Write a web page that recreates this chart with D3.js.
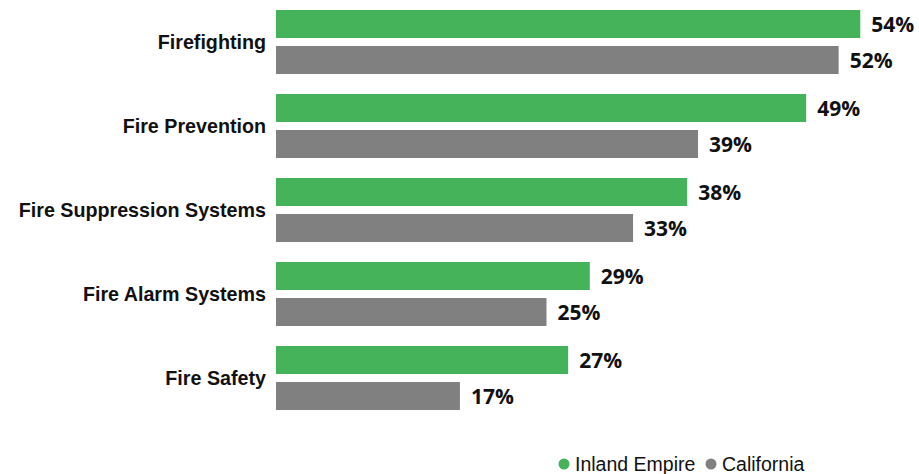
<!DOCTYPE html>
<html>
<head>
<meta charset="utf-8">
<script src="https://cdn.jsdelivr.net/npm/d3@7"></script>
<style>
  html, body { margin: 0; padding: 0; background: #fff; }
  svg { display: block; }
</style>
</head>
<body>
<svg id="chart" width="919" height="474"></svg>
<script>
// categories, top to bottom
const categories = ["Firefighting", "Fire Prevention", "Fire Suppression Systems", "Fire Alarm Systems", "Fire Safety"];
const seriesNames = ["Inland Empire", "California"];
const inlandEmpire = [54, 49, 38, 29, 27];
const california = [52, 39, 33, 25, 17];

const GREEN = "#44b35a";
const GRAY = "#808080";

const svg = d3.select("#chart");

// bar area
const x = d3.scaleLinear().domain([0, 54]).range([276, 276 + 54 * 10.82]);
const y = d3.scaleBand().domain(categories).range([1, 421]).paddingInner(0).paddingOuter(0);

const series = [
  { name: seriesNames[0], values: inlandEmpire, color: GREEN, offset: 9 },
  { name: seriesNames[1], values: california, color: GRAY, offset: 45 }
];
const BAR_H = 28;

series.forEach(s => {
  const g = svg.append("g");
  g.selectAll("rect")
    .data(categories)
    .enter().append("rect")
    .attr("x", x(0))
    .attr("y", d => y(d) + s.offset)
    .attr("width", (d, i) => x(s.values[i]) - x(0))
    .attr("height", BAR_H)
    .attr("fill", s.color);

  g.selectAll("text")
    .data(categories)
    .enter().append("text")
    .attr("x", (d, i) => x(s.values[i]) + 11)
    .attr("y", d => y(d) + s.offset + BAR_H / 2)
    .attr("dy", "0.36em")
    .attr("font-family", "'Open Sans', sans-serif")
    .attr("font-weight", "bold")
    .attr("font-size", "21px")
    .attr("fill", "#111")
    .text((d, i) => s.values[i] + "%");
});

// category labels
svg.append("g").selectAll("text")
  .data(categories)
  .enter().append("text")
  .attr("x", 266)
  .attr("y", d => y(d) + 41)
  .attr("dy", "0.36em")
  .attr("text-anchor", "end")
  .attr("font-family", "'Liberation Sans', Arial, sans-serif")
  .attr("font-weight", "bold")
  .attr("font-size", "19.7px")
  .attr("fill", "#111")
  .text(d => d);

// legend
const legend = svg.append("g").attr("transform", "translate(0,464)");
const legendX = [564, 711];
series.forEach((s, i) => {
  legend.append("circle")
    .attr("cx", legendX[i])
    .attr("cy", 0)
    .attr("r", 5.5)
    .attr("fill", s.color);
  legend.append("text")
    .attr("x", legendX[i] + 11)
    .attr("y", 0)
    .attr("dy", "0.36em")
    .attr("font-family", "'Liberation Sans', Arial, sans-serif")
    .attr("font-size", "19.5px")
    .attr("fill", "#111")
    .text(s.name);
});
</script>
</body>
</html>
